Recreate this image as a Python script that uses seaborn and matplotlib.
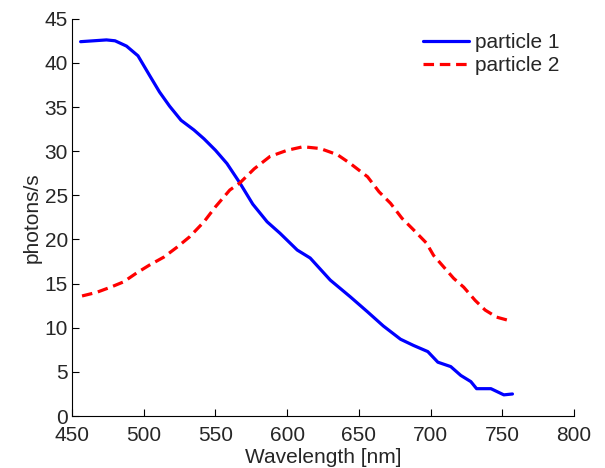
import pandas as pd
import matplotlib
matplotlib.use("Agg")
import matplotlib.pyplot as plt
import seaborn as sns

# values
wl_p1 = [456, 465, 474, 480, 488, 496, 504, 511, 518, 526, 535, 542, 550, 558, 567,
         576, 586, 595, 607, 616, 630, 644, 656, 667, 679, 688, 698, 705, 714, 721,
         728, 732, 742, 751, 757]
ph_p1 = [42.4, 42.5, 42.6, 42.5, 41.9, 40.8, 38.6, 36.7, 35.1, 33.5, 32.4, 31.4, 30.1, 28.6, 26.4,
         24.0, 22.0, 20.7, 18.8, 17.9, 15.4, 13.5, 11.8, 10.2, 8.7, 8.0, 7.3, 6.1, 5.6, 4.6,
         3.9, 3.1, 3.1, 2.4, 2.5]

wl_p2 = [457, 467, 477, 486, 495, 504, 514, 523, 532, 542, 550, 560, 567, 577, 588,
         600, 611, 623, 635, 644, 656, 664, 672, 680, 688, 697, 702, 709, 716, 723,
         731, 738, 746, 755]
ph_p2 = [13.6, 14.0, 14.6, 15.2, 16.2, 17.1, 18.0, 19.1, 20.3, 22.0, 23.7, 25.6, 26.4, 28.0, 29.4,
         30.1, 30.5, 30.3, 29.6, 28.6, 27.1, 25.4, 24.1, 22.4, 21.1, 19.6, 18.2, 16.9, 15.6, 14.6,
         13.1, 12.0, 11.2, 10.8]

df = pd.concat([
    pd.DataFrame({"wl": wl_p1, "ph": ph_p1, "series": "particle 1"}),
    pd.DataFrame({"wl": wl_p2, "ph": ph_p2, "series": "particle 2"}),
], ignore_index=True)

sns.set_style("white")
plt.rcParams["font.family"] = ["Liberation Sans", "DejaVu Sans"]
plt.rcParams["xtick.direction"] = "in"
plt.rcParams["ytick.direction"] = "in"

fig = plt.figure(figsize=(6.05, 4.68), dpi=100)
ax = fig.add_axes([0.119, 0.111, 0.83, 0.849])

sns.lineplot(data=df, x="wl", y="ph", hue="series", style="series",
             palette={"particle 1": "#0000ff", "particle 2": "#ff0000"},
             dashes={"particle 1": "", "particle 2": (3.3, 1.8)},
             linewidth=2.3, sort=False, ax=ax)

ax.set_xlim(450, 800)
ax.set_ylim(0, 45)
ax.set_xticks(range(450, 801, 50))
ax.set_yticks(range(0, 46, 5))
ax.tick_params(labelsize=15, length=5, width=0.8, color="black",
               bottom=True, left=True)
ax.tick_params(axis="x", pad=7)
ax.tick_params(axis="y", pad=3)
for s in ["top", "right"]:
    ax.spines[s].set_visible(False)
for s in ["left", "bottom"]:
    ax.spines[s].set_color("black")
    ax.spines[s].set_linewidth(0.8)

ax.set_xlabel("Wavelength [nm]", fontsize=15, labelpad=2)
ax.set_ylabel("photons/s", fontsize=15, labelpad=2)

leg = ax.legend(title=None, frameon=False, fontsize=15, loc="upper right",
                bbox_to_anchor=(1.0, 1.0), handlelength=2.2, handletextpad=0.3,
                labelspacing=0.2, borderaxespad=0.3)
for line in leg.get_lines():
    line.set_linewidth(2.3)

plt.savefig("out.png", dpi=100)
plt.close()
